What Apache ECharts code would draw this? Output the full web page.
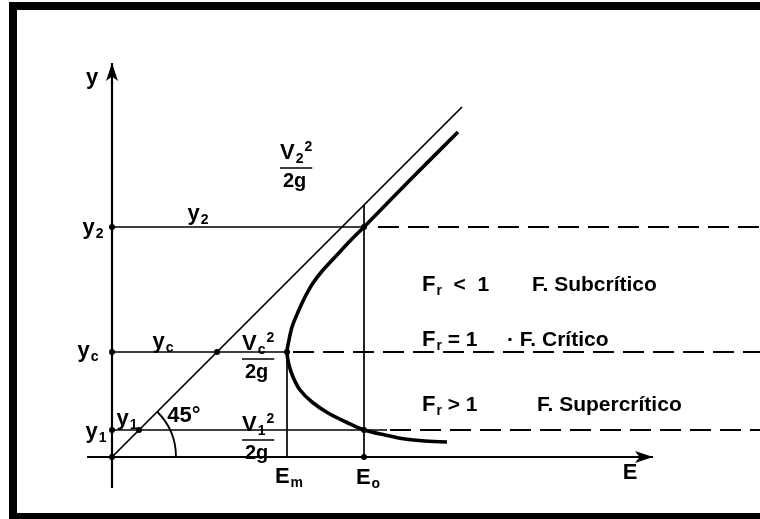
<!DOCTYPE html>
<html><head><meta charset="utf-8">
<script src="https://cdn.jsdelivr.net/npm/echarts@6/dist/echarts.min.js"></script>
<style>html,body{margin:0;padding:0;background:#fff}#c{width:760px;height:519px}</style>
</head><body><div id="c"></div>
<script>
// Depth levels (y) and energy levels (E) of the specific-energy diagram
const depthNames = ['y1', 'yc', 'y2'];
const depthValues = [0.27, 1.05, 2.30];
const energyNames = ['Em', 'Eo'];
const energyValues = [1.75, 2.52];
// 45-degree reference line E = y, drawn up to this value
const line45End = 3.50;
// Specific energy curve, upper (subcritical) branch down to the supercritical tail
const curveE = [3.46, 2.99, 2.52, 2.38, 2.24, 2.11, 2.01, 1.93, 1.86, 1.80, 1.77, 1.75,
                1.77, 1.81, 1.88, 2.00, 2.16, 2.34, 2.52, 2.73, 2.93, 3.13, 3.35];
const curveY = [3.25, 2.78, 2.30, 2.16, 2.01, 1.87, 1.74, 1.60, 1.45, 1.30, 1.17, 1.05,
                0.92, 0.80, 0.67, 0.55, 0.44, 0.35, 0.27, 0.22, 0.18, 0.16, 0.15];
// Axis extents
const eAxisRange = [-0.25, 5.41];
const yAxisRange = [-0.31, 3.94];

const y1 = depthValues[0], yc = depthValues[1], y2 = depthValues[2];
const Em = energyValues[0], Eo = energyValues[1];
const xMax = 6.48;

const INK = '#000';
const FONT = '"Liberation Sans", Arial, sans-serif';

const chart = echarts.init(document.getElementById('c'), null, { renderer: 'canvas' });

const thin = { color: INK, width: 1.7, type: 'solid' };
const dashed = { color: INK, width: 1.8, type: [21, 9] };
const axisStyle = { color: INK, width: 2.2, type: 'solid' };

function seg(a, b, style, arrow) {
  const start = { coord: a, lineStyle: style, symbol: 'none' };
  const end = { coord: b, symbol: arrow ? 'arrow' : 'none', symbolSize: arrow ? [9, 18] : 0 };
  return [start, end];
}

const lines = [
  // axes
  seg([eAxisRange[0], 0], [eAxisRange[1], 0], axisStyle, true),
  seg([0, yAxisRange[0]], [0, yAxisRange[1]], axisStyle, true),
  // 45 degree line
  seg([0, 0], [line45End, line45End], thin),
  // depth levels
  seg([0, y2], [Eo, y2], thin),
  seg([Eo + 0.14, y2], [xMax, y2], dashed),
  seg([0, yc], [Em, yc], thin),
  seg([Em + 0.06, yc], [xMax, yc], dashed),
  seg([0, y1], [2.75, y1], thin),
  seg([2.78, y1], [xMax, y1], dashed),
  // energy verticals
  seg([Em, 0], [Em, yc], thin),
  seg([Eo, 0], [Eo, Eo], thin)
];

const dots = [[0, 0], [0, y1], [0, yc], [0, y2], [y1, y1], [yc, yc],
              [Em, yc], [Eo, y2], [Eo, y1], [Eo, 0]];

const base = { color: INK, fontFamily: FONT, fontWeight: 'bold' };
const rich = {
  b: { ...base, fontSize: 22, lineHeight: 22 },
  s: { ...base, fontSize: 14, padding: [12, 0, 0, 1] },
  p: { ...base, fontSize: 14, padding: [0, 0, 12, 1] },
  t: { ...base, fontSize: 21 },
  hr: { borderColor: INK, width: '100%', borderWidth: 1.6, height: 0, lineHeight: 4 },
  d: { ...base, fontSize: 20, lineHeight: 22, padding: [0, 0, 0, 3] },
  g: { ...base, fontSize: 22 }
};

const yLab = sub => '{b|y}{s|' + sub + '}';
const frac = sub => '{b|V}{s|' + sub + '}{p|2}\n{hr|}\n{d|2g}';
const fr = rel => '{b|F}{s|r}{t|' + rel + '}';

const notes = [
  { at: [-0.20, 3.79], text: '{b|y}' },
  { at: [-0.19, 2.29], text: yLab('2') },
  { at: [-0.24, 1.06], text: yLab('c') },
  { at: [-0.16, 0.25], text: yLab('1') },
  { at: [0.86, 2.43], text: yLab('2') },
  { at: [0.51, 1.15], text: yLab('c') },
  { at: [0.15, 0.38], text: yLab('1') },
  { at: [0.72, 0.41], text: '{g|45°}' },
  { at: [1.77, -0.20], text: '{b|E}{s|m}' },
  { at: [2.56, -0.21], text: '{b|E}{s|o}' },
  { at: [5.18, -0.16], text: '{b|E}' },
  { at: [1.68, 2.91], text: frac('2'), left: true },
  { at: [1.30, 1.00], text: frac('c'), left: true },
  { at: [1.30, 0.19], text: frac('1'), left: true },
  { at: [3.10, 1.72], text: fr('  <  1'), left: true },
  { at: [4.20, 1.72], text: '{t|F. Subcrítico}', left: true },
  { at: [3.10, 1.17], text: fr(' = 1'), left: true },
  { at: [3.95, 1.17], text: '{t|· F. Crítico}', left: true },
  { at: [3.10, 0.52], text: fr(' > 1'), left: true },
  { at: [4.25, 0.52], text: '{t|F. Supercrítico}', left: true }
];

const option = {
  animation: false,
  backgroundColor: '#fff',
  grid: { left: 0, right: 0, top: 0, bottom: 0 },
  xAxis: { type: 'value', min: -1.12, max: xMax, show: false },
  yAxis: { type: 'value', min: -0.62, max: 4.57, show: false },
  series: [
    {
      type: 'line', data: [], silent: true,
      markLine: { silent: true, symbol: ['none', 'none'], label: { show: false },
        emphasis: { disabled: true }, data: lines }
    },
    {
      type: 'line', smooth: 0.3, showSymbol: false, silent: true,
      lineStyle: { color: INK, width: 3.6 },
      data: curveE.map((e, i) => [e, curveY[i]])
    },
    {
      type: 'scatter', silent: true, symbolSize: 6, itemStyle: { color: INK, opacity: 1 },
      data: dots
    },
    {
      type: 'scatter', silent: true, symbolSize: 0, itemStyle: { opacity: 1 },
      data: notes.map(n => ({
        value: n.at,
        label: {
          show: true, position: n.left ? 'right' : 'inside', distance: 0,
          color: INK, fontFamily: FONT, fontWeight: 'bold', fontSize: 20,
          formatter: n.text, rich: rich, align: n.left ? 'left' : 'center',
          verticalAlign: 'middle'
        }
      }))
    }
  ],
  graphic: [
    // frame
    { type: 'rect', shape: { x: 9, y: 2, width: 751, height: 8 }, style: { fill: '#000' } },
    { type: 'rect', shape: { x: 9, y: 2, width: 8, height: 517 }, style: { fill: '#000' } },
    { type: 'rect', shape: { x: 9, y: 513, width: 751, height: 6 }, style: { fill: '#000' } }
  ]
};
chart.setOption(option);

// 45° angle arc at the origin, sized in axis units
const o = chart.convertToPixel({ gridIndex: 0 }, [0, 0]);
const r = chart.convertToPixel({ gridIndex: 0 }, [0.64, 0])[0] - o[0];
chart.setOption({
  graphic: option.graphic.concat([{
    type: 'arc', shape: { cx: o[0], cy: o[1], r: r, startAngle: -Math.PI / 4, endAngle: 0, clockwise: true },
    style: { stroke: INK, lineWidth: 1.8, fill: null }
  }])
});
</script></body></html>
